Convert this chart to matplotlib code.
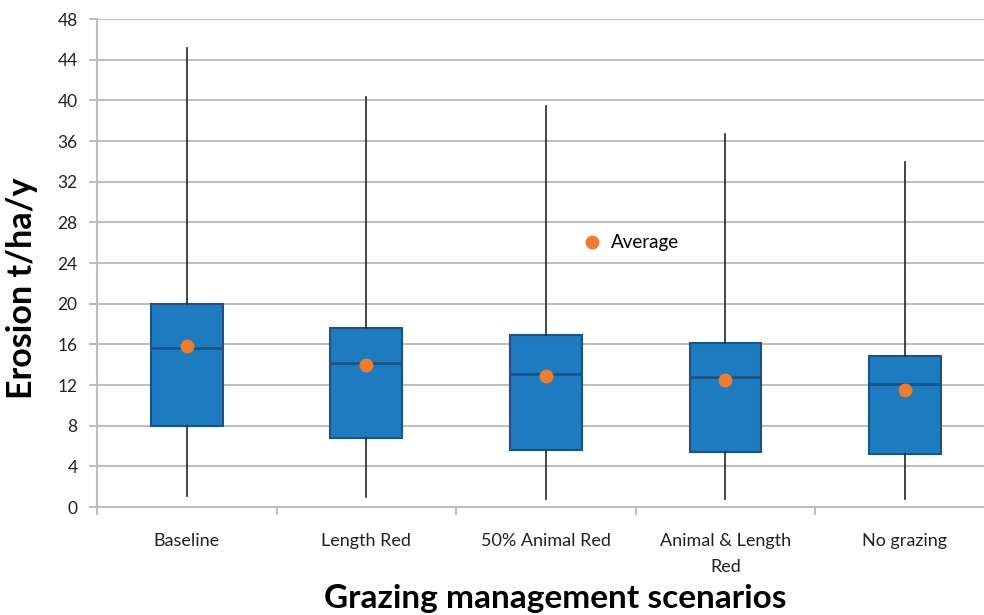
import matplotlib
matplotlib.use('Agg')
import matplotlib.pyplot as plt
from matplotlib.lines import Line2D

plt.rcParams['font.family'] = ['Lato', 'DejaVu Sans']

scenarios = ['Baseline', 'Length Red', '50% Animal Red', 'Animal & Length\nRed', 'No grazing']
whisker_low = [1.1, 1.0, 0.8, 0.8, 0.8]
q1 = [8.0, 6.8, 5.6, 5.4, 5.2]
median = [15.6, 14.2, 13.1, 12.8, 12.1]
q3 = [20.0, 17.6, 16.9, 16.1, 14.9]
whisker_high = [45.1, 40.3, 39.4, 36.7, 33.9]
average = [15.8, 14.0, 12.9, 12.5, 11.5]

box_color = '#1f7bbf'
edge_color = '#1a5486'
avg_color = '#ed7d31'
grid_color = '#bfbfbf'


def main():
    stats = []
    for i, name in enumerate(scenarios):
        stats.append(dict(label=name, whislo=whisker_low[i], q1=q1[i], med=median[i],
                          q3=q3[i], whishi=whisker_high[i], mean=average[i], fliers=[]))

    fig = plt.figure(figsize=(9.84, 6.15), dpi=100)
    ax = fig.add_axes([0.0986, 0.1756, 0.9014, 0.7935])
    positions = list(range(len(scenarios)))
    ax.bxp(stats, positions=positions, widths=0.4, patch_artist=True,
           showcaps=False, showfliers=False,
           boxprops=dict(facecolor=box_color, edgecolor=edge_color, linewidth=1.5),
           medianprops=dict(color=edge_color, linewidth=2),
           whiskerprops=dict(color='#262626', linewidth=1.2))
    ax.plot(positions, average, 'o', color=avg_color, markersize=9, zorder=5)

    ax.set_xticks(positions)
    ax.set_xticklabels(scenarios, fontsize=13, color='#222222', linespacing=1.75)
    ax.set_xticks([p + 0.5 for p in [-1] + positions], minor=True)
    ax.set_ylim(0, 48)
    ax.set_yticks(range(0, 49, 4))
    ax.set_xlim(-0.5, 4.44)
    ax.tick_params(axis='x', which='major', length=0, pad=19)
    ax.tick_params(axis='x', which='minor', length=6, color=grid_color, width=1.5)
    ax.tick_params(axis='y', length=6, color=grid_color, width=1.5, labelsize=12.5,
                   labelcolor='#222222', pad=8)
    ax.yaxis.grid(True, color=grid_color, linewidth=1.5)
    ax.set_axisbelow(True)
    for side in ['top', 'right']:
        ax.spines[side].set_visible(False)
    for side in ['left', 'bottom']:
        ax.spines[side].set_color(grid_color)
        ax.spines[side].set_linewidth(1.5)

    ax.set_ylabel('Erosion t/ha/y', fontsize=24.5, fontweight='bold', color='black')
    ax.yaxis.set_label_coords(-0.067, 0.449)
    ax.set_xlabel('Grazing management scenarios', fontsize=24, fontweight='bold',
                  color='black')
    ax.xaxis.set_label_coords(0.517, -0.158)

    handle = Line2D([], [], marker='o', linestyle='none', color=avg_color, markersize=9)
    ax.legend([handle], ['Average'], loc='center left', bbox_to_anchor=(0.529, 26 / 48),
              frameon=False, fontsize=13.5, handletextpad=0.0, borderaxespad=0)

    fig.savefig('out.png', dpi=100)


if __name__ == '__main__':
    main()
